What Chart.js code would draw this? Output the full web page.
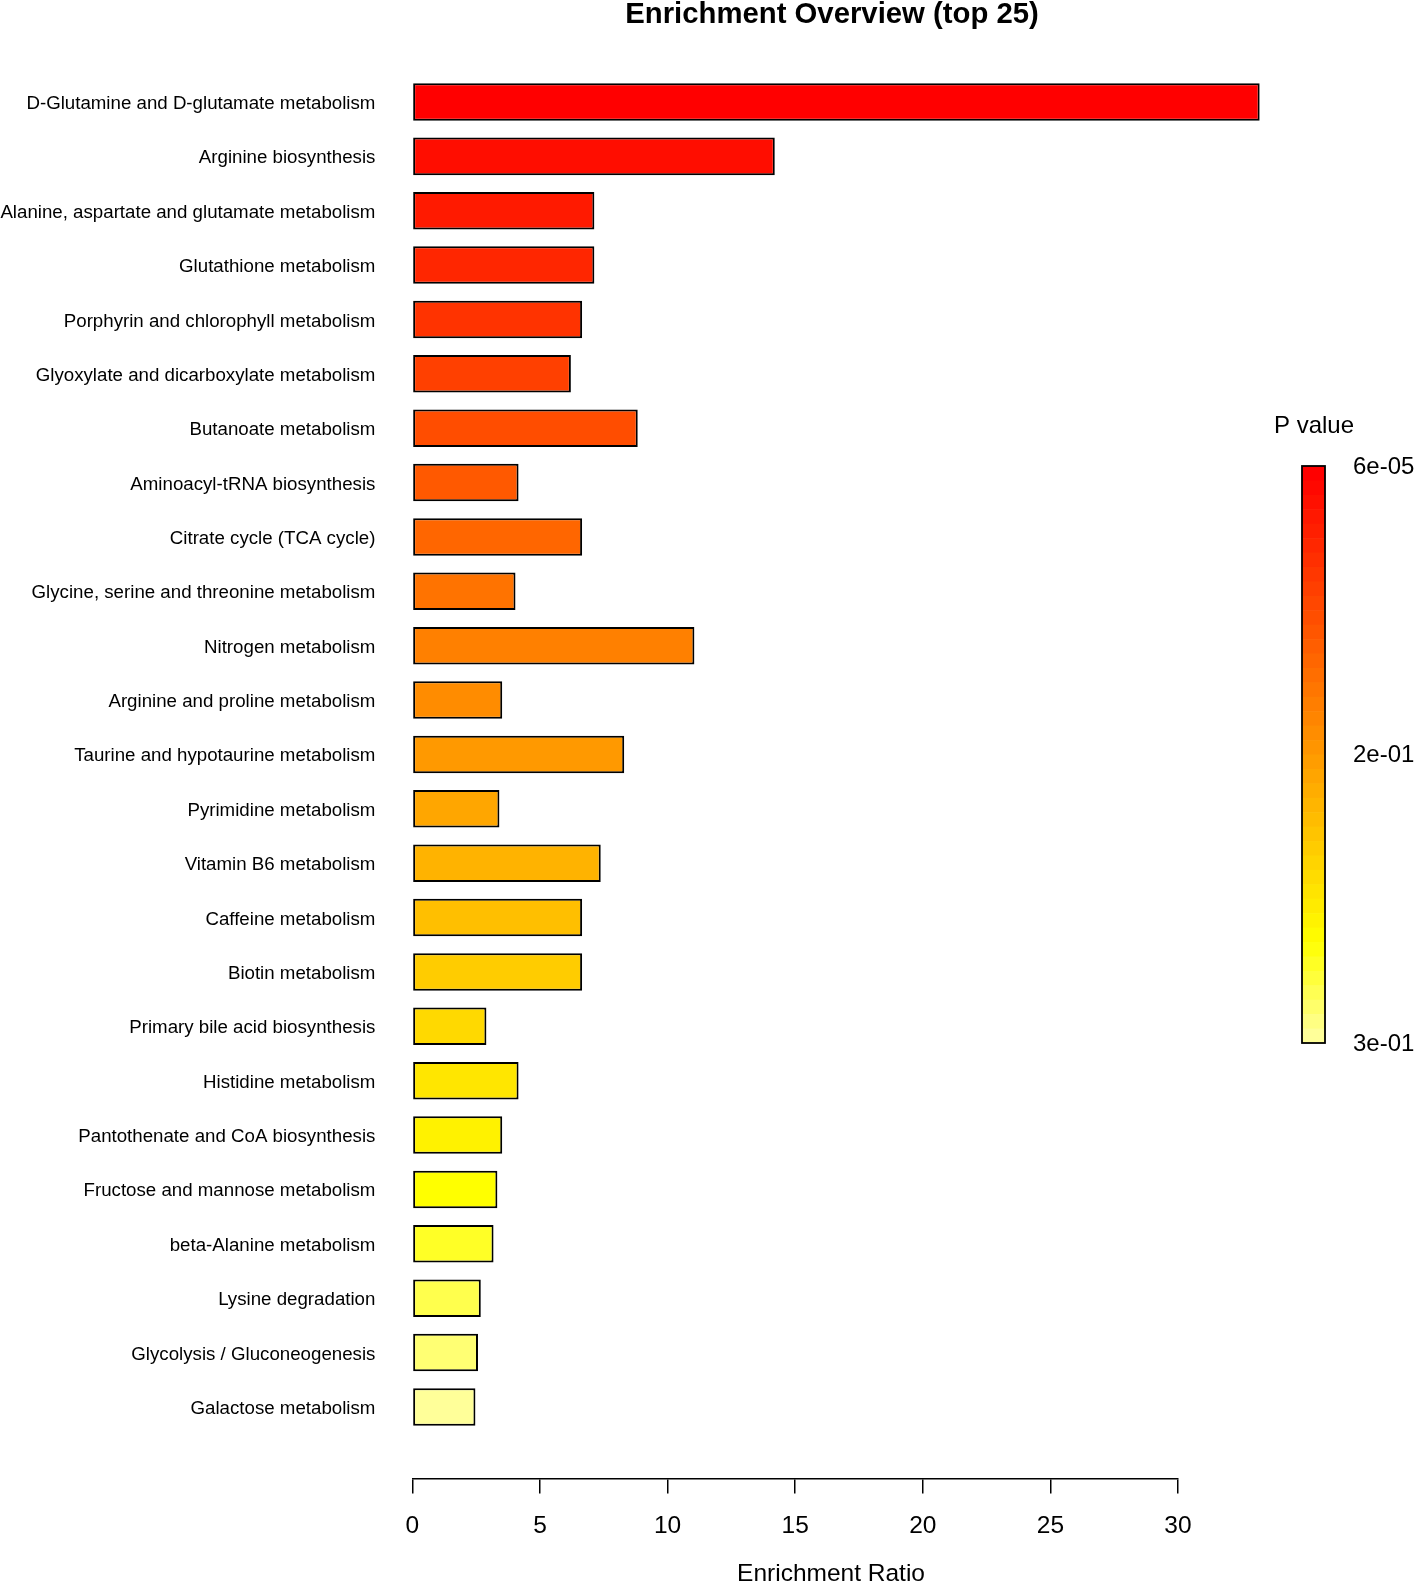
<!DOCTYPE html>
<html>
<head>
<meta charset="utf-8">
<script src="https://cdn.jsdelivr.net/npm/chart.js@4.4.1/dist/chart.umd.min.js"></script>
<style>
  html, body { margin: 0; padding: 0; background: #fff; overflow: hidden; }
  canvas { display: block; }
</style>
</head>
<body>
<canvas id="c" width="1417" height="1584"></canvas>
<script>
// ---- data ----
const categories = [
  "D-Glutamine and D-glutamate metabolism",
  "Arginine biosynthesis",
  "Alanine, aspartate and glutamate metabolism",
  "Glutathione metabolism",
  "Porphyrin and chlorophyll metabolism",
  "Glyoxylate and dicarboxylate metabolism",
  "Butanoate metabolism",
  "Aminoacyl-tRNA biosynthesis",
  "Citrate cycle (TCA cycle)",
  "Glycine, serine and threonine metabolism",
  "Nitrogen metabolism",
  "Arginine and proline metabolism",
  "Taurine and hypotaurine metabolism",
  "Pyrimidine metabolism",
  "Vitamin B6 metabolism",
  "Caffeine metabolism",
  "Biotin metabolism",
  "Primary bile acid biosynthesis",
  "Histidine metabolism",
  "Pantothenate and CoA biosynthesis",
  "Fructose and mannose metabolism",
  "beta-Alanine metabolism",
  "Lysine degradation",
  "Glycolysis / Gluconeogenesis",
  "Galactose metabolism"
];
const enrichmentRatio = [
  33.2, 14.2, 7.13, 7.13, 6.65, 6.21, 8.83, 4.16, 6.65, 4.04,
  11.05, 3.52, 8.30, 3.41, 7.38, 6.65, 6.65, 2.90, 4.16, 3.52,
  3.33, 3.18, 2.68, 2.57, 2.47
];
const xTicks = [0, 5, 10, 15, 20, 25, 30];
const pLegendLabels = ["6e-05", "2e-01", "3e-01"];

// ---- style ----
const FONT = '"Liberation Sans", Arial, Helvetica, sans-serif';
Chart.defaults.font.family = FONT;
Chart.defaults.color = '#000';

function hsvToHex(h, s, v) {
  const f = (n) => {
    const k = (n + h / 60) % 6;
    const c = v - v * s * Math.max(Math.min(k, 4 - k, 1), 0);
    return Math.round(c * 255).toString(16).padStart(2, '0');
  };
  return '#' + f(5) + f(3) + f(1);
}
// heat-like palette: red -> yellow -> pale yellow, t in [0,1]
function heat(t) {
  const split = 0.833;
  if (t <= split) return hsvToHex(60 * t / split, 1, 1);
  const s = 1 - 0.6 * (t - split) / (1 - split);
  return hsvToHex(60, s, 1);
}
const barColors = categories.map((_, i) => heat(i / (categories.length - 1)));

// layout constants (pixels)
const CH_LEFT = 412.4, CH_RIGHT = 1178, CH_TOP = 60, CH_BOTTOM = 1478.6;
const W = 1417, H = 1584;
const LABEL_NUDGE = 0.035; // small downward nudge of category labels (in index units)

const overlay = {
  id: 'overlay',
  afterDraw(chart) {
    const ctx = chart.ctx;
    const xs = chart.scales.x;
    const maxV = Math.max(...enrichmentRatio);
    const cx = (xs.getPixelForValue(0) + xs.getPixelForValue(maxV)) / 2;
    ctx.save();
    // main title
    ctx.fillStyle = '#000';
    ctx.textAlign = 'center';
    ctx.textBaseline = 'middle';
    ctx.font = 'bold 29.3px ' + FONT;
    ctx.fillText('Enrichment Overview (top 25)', cx - 4, 14.5);
    // x axis title
    ctx.font = '24.5px ' + FONT;
    ctx.fillText('Enrichment Ratio', cx - 5, 1574);
    // colour bar
    const bx = 1302, bw = 23, by = 466, bh = 577;
    const N = 40;
    for (let k = 0; k < N; k++) {
      ctx.fillStyle = heat(k / (N - 1));
      const y0 = by + bh * k / N;
      ctx.fillRect(bx, y0, bw, bh / N + 0.6);
    }
    ctx.strokeStyle = '#000';
    ctx.lineWidth = 1.8;
    ctx.strokeRect(bx, by, bw, bh);
    ctx.fillStyle = '#000';
    ctx.font = '24px ' + FONT;
    ctx.textAlign = 'center';
    ctx.fillText('P value', 1314, 426);
    ctx.textAlign = 'left';
    ctx.fillText(pLegendLabels[0], 1353, by + 1);
    ctx.fillText(pLegendLabels[1], 1353, by + bh / 2 + 1);
    ctx.fillText(pLegendLabels[2], 1353, by + bh + 1);
    ctx.restore();
  }
};

const yMin = -0.7725, yMax = 25.319;

new Chart(document.getElementById('c'), {
  type: 'bar',
  data: {
    datasets: [{
      data: enrichmentRatio.map((v, i) => ({ x: v, y: i })),
      backgroundColor: barColors,
      borderColor: '#000',
      borderWidth: 2,
      borderSkipped: false,
      barPercentage: 0.69,
      categoryPercentage: 1,
      clip: false
    }]
  },
  options: {
    indexAxis: 'y',
    responsive: false,
    animation: false,
    events: [],
    layout: { padding: { top: CH_TOP, left: 0, right: W - CH_RIGHT, bottom: 0 } },
    plugins: { legend: { display: false }, title: { display: false }, tooltip: { enabled: false } },
    scales: {
      x: {
        type: 'linear',
        position: 'bottom',
        min: 0, max: 30,
        offset: false,
        afterBuildTicks: (s) => { s.ticks = xTicks.map(v => ({ value: v })); },
        afterFit: (s) => { s.height = H - CH_BOTTOM; },
        grid: { display: true, drawOnChartArea: false, drawTicks: true, tickLength: 15, color: '#000', lineWidth: 1.5 },
        border: { display: true, color: '#000', width: 1.5 },
        ticks: { font: { size: 24.5 }, color: '#000', padding: 18, maxRotation: 0 }
      },
      y: {
        type: 'linear',
        position: 'left',
        reverse: true,
        offset: false,
        bounds: 'data',
        min: yMin, max: yMax,
        afterBuildTicks: (s) => { s.ticks = categories.map((_, i) => ({ value: i + LABEL_NUDGE })); },
        afterFit: (s) => { s.width = CH_LEFT; },
        grid: { display: false, drawTicks: false, offset: false },
        border: { display: false },
        ticks: {
          autoSkip: false,
          font: { size: 18.7 },
          color: '#000',
          padding: 37,
          callback: (v) => categories[Math.round(v)] ?? ''
        }
      }
    }
  },
  plugins: [overlay]
});
</script>
</body>
</html>
